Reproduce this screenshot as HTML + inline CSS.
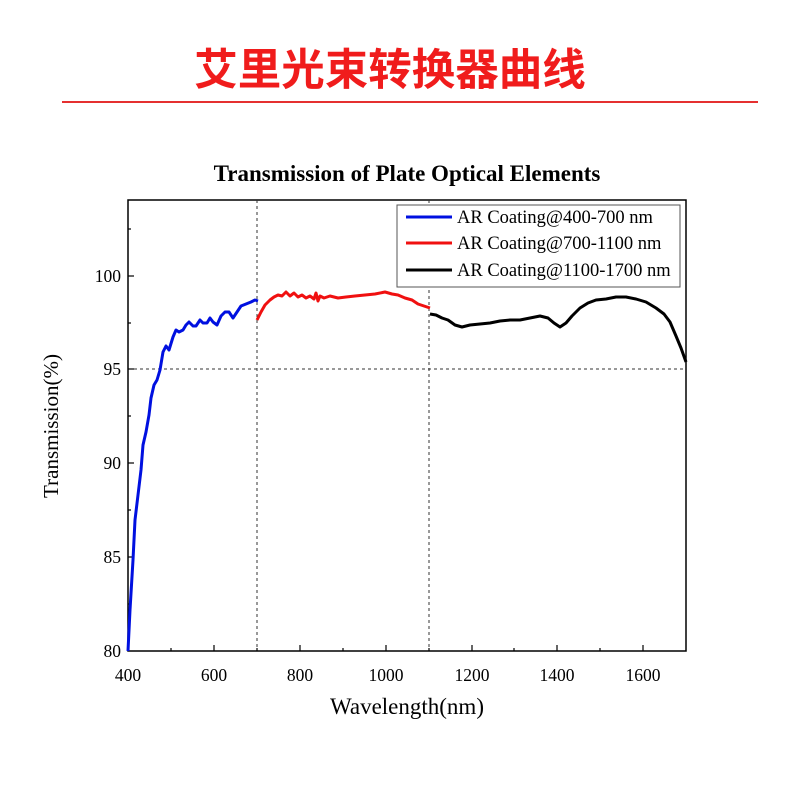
<!DOCTYPE html>
<html><head><meta charset="utf-8"><style>
body{margin:0;background:#fff;width:800px;height:800px;overflow:hidden}
</style></head><body>
<svg width="800" height="800" xmlns="http://www.w3.org/2000/svg" font-family="Liberation Serif, serif">
<text x="390" y="85" text-anchor="middle" font-family="Liberation Sans, 'Noto Sans CJK SC', sans-serif" font-weight="bold" font-size="43.5" fill="#f01c1c">艾里光束转换器曲线</text>
<line x1="62" y1="102" x2="758" y2="102" stroke="#e53030" stroke-width="2"/>
<text x="407" y="181" text-anchor="middle" font-weight="bold" font-size="23">Transmission of Plate Optical Elements</text>
<rect x="128" y="200" width="558" height="451" fill="none" stroke="#000" stroke-width="1.5"/>
<g stroke="#333" stroke-dasharray="3,3" stroke-width="1">
<line x1="257" y1="200" x2="257" y2="651"/><line x1="429" y1="200" x2="429" y2="651"/>
<line x1="128" y1="369" x2="686" y2="369"/></g>
<g stroke="#000" stroke-width="1.2">
<line x1="128" y1="276" x2="134" y2="276"/><line x1="128" y1="369" x2="134" y2="369"/><line x1="128" y1="463" x2="134" y2="463"/><line x1="128" y1="557" x2="134" y2="557"/>
<line x1="128" y1="229" x2="131" y2="229"/><line x1="128" y1="323" x2="131" y2="323"/><line x1="128" y1="416" x2="131" y2="416"/><line x1="128" y1="510" x2="131" y2="510"/><line x1="128" y1="604" x2="131" y2="604"/>
<line x1="214" y1="651" x2="214" y2="645"/><line x1="300" y1="651" x2="300" y2="645"/><line x1="386" y1="651" x2="386" y2="645"/><line x1="472" y1="651" x2="472" y2="645"/><line x1="557" y1="651" x2="557" y2="645"/><line x1="643" y1="651" x2="643" y2="645"/>
<line x1="171" y1="651" x2="171" y2="648"/><line x1="257" y1="651" x2="257" y2="648"/><line x1="343" y1="651" x2="343" y2="648"/><line x1="429" y1="651" x2="429" y2="648"/><line x1="514" y1="651" x2="514" y2="648"/><line x1="600" y1="651" x2="600" y2="648"/>
</g>
<g font-size="17.5" text-anchor="end">
<text x="121" y="282">100</text><text x="121" y="375">95</text><text x="121" y="469">90</text><text x="121" y="563">85</text><text x="121" y="657">80</text></g>
<g font-size="17.5" text-anchor="middle">
<text x="128" y="681">400</text><text x="214" y="681">600</text><text x="300" y="681">800</text><text x="386" y="681">1000</text><text x="472" y="681">1200</text><text x="557" y="681">1400</text><text x="643" y="681">1600</text></g>
<text x="407" y="714" text-anchor="middle" font-size="23">Wavelength(nm)</text>
<text transform="translate(58,426) rotate(-90)" text-anchor="middle" font-size="21">Transmission(%)</text>
<g fill="none" stroke-width="3" stroke-linejoin="round">
<polyline stroke="#0010e0" points="128,651 130,610 133,560 135,520 138,495 141,470 143,445 146,432 149,415 151,398 154,385 157,380 160,370 163,352 166,346 169,350 173,337 176,330 179,332 183,330 186,325 189,322 193,326 196,326 200,320 203,323 207,323 210,318 213,322 217,325 221,316 225,312 229,312 233,318 237,312 241,306 246,304 251,302 255,300 258,301"/>
<polyline stroke="#f01010" points="257,320 261,312 265,305 270,300 274,297 278,295 282,296 286,292 290,296 294,293 298,297 302,295 306,298 310,296 314,299 316,293 318,301 320,296 324,298 330,296 338,298 346,297 355,296 365,295 375,294 385,292 392,294 398,295 405,298 412,300 418,304 424,306 430,308"/>
<polyline stroke="#000" points="430,314 436,315 442,318 448,320 455,325 462,327 470,325 480,324 490,323 500,321 510,320 520,320 530,318 540,316 548,318 554,323 560,327 566,323 572,316 580,308 588,303 596,300 606,299 616,297 626,297 636,299 646,302 656,308 664,314 670,322 676,336 681,348 686,362"/>
</g>
<rect x="397" y="205" width="283" height="82" fill="#fff" stroke="#555" stroke-width="1"/>
<g stroke-width="3"><line x1="406" y1="217" x2="452" y2="217" stroke="#0010e0"/><line x1="406" y1="243" x2="452" y2="243" stroke="#f01010"/><line x1="406" y1="270" x2="452" y2="270" stroke="#000"/></g>
<g font-size="18.5"><text x="457" y="223">AR Coating@400-700 nm</text><text x="457" y="249">AR Coating@700-1100 nm</text><text x="457" y="276">AR Coating@1100-1700 nm</text></g>
</svg>
</body></html>
